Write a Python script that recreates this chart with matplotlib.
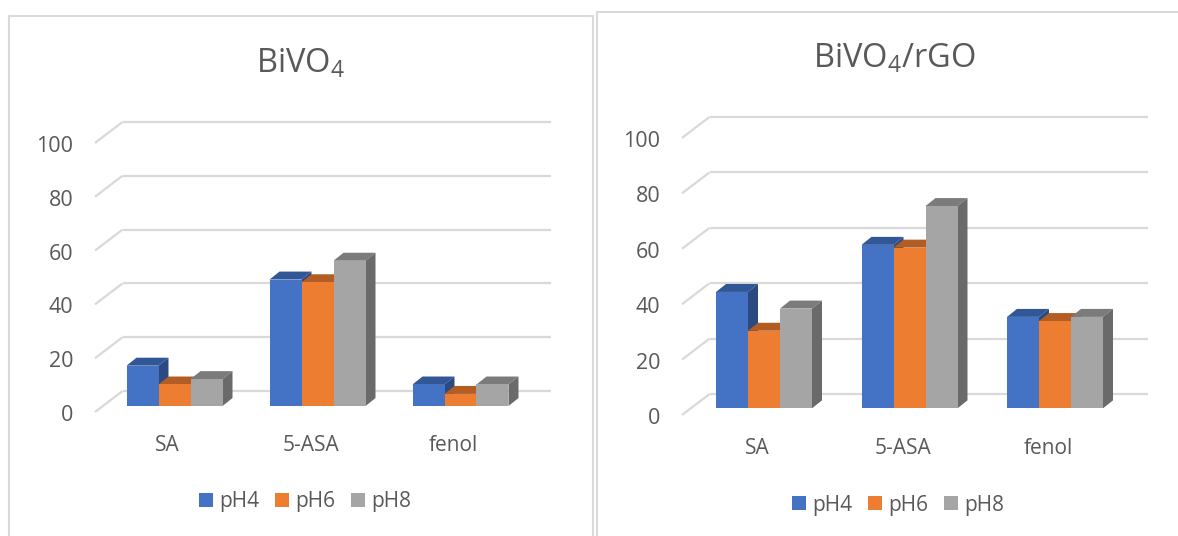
import matplotlib
matplotlib.use("Agg")
import matplotlib.pyplot as plt
from matplotlib.lines import Line2D

plt.rcParams["font.family"] = ["Open Sans", "DejaVu Sans"]
plt.rcParams["mathtext.default"] = "regular"

W, H = 1178, 536

categories = ["SA", "5-ASA", "fenol"]
series = ["pH4", "pH6", "pH8"]
ticks = [0, 20, 40, 60, 80, 100]

bivo4_ph4 = [15, 47, 8]
bivo4_ph6 = [8, 46, 4.5]
bivo4_ph8 = [10, 54, 8]

rgo_ph4 = [42, 59, 33]
rgo_ph6 = [28, 58, 31.5]
rgo_ph8 = [36, 73, 33]

front = ["#4472C4", "#ED7D31", "#A5A5A5"]
top = ["#325796", "#B25D24", "#7B7B7B"]
side = ["#2C4A82", "#A0521D", "#6A6A6A"]
grid = "#D9D9D9"
text_col = "#595959"


def panel(fig, title, values, box, title_xy, legend_xy):
    # box holds the pixel geometry of one fake 3D chart
    x0, x1, y_top, y_bottom, y_base, y_back, y_tick0, center, pitch, scale = box
    ax = fig.add_axes([x0 / W, 1 - y_bottom / H, (x1 - x0) / W, (y_bottom - y_top) / H])
    ax.set_xlim((x0 - center) / pitch, (x1 - center) / pitch)
    ax.set_ylim((y_base - y_bottom) / scale, (y_base - y_top) / scale)
    ax.patch.set_alpha(0)
    for s in ax.spines.values():
        s.set_visible(False)

    # wall lines, then the short diagonals going to the tick labels
    back = (y_base - y_back) / scale
    wall_dx = 27.5 / pitch
    for t in ticks:
        ax.plot([ax.get_xlim()[0] + wall_dx, ax.get_xlim()[1]], [t + back, t + back],
                color=grid, lw=1.6, zorder=1, solid_capstyle="butt", clip_on=False)
        ax.plot([ax.get_xlim()[0], ax.get_xlim()[0] + wall_dx],
                [t + (y_base - y_tick0) / scale, t + back],
                color=grid, lw=1.6, zorder=1, solid_capstyle="butt", clip_on=False)

    # bars with a top and a side face
    w = 32 / pitch
    dx = 10 / pitch
    dy = 8 / scale
    for j, vals in enumerate(values):
        for i, v in enumerate(vals):
            left = i + (j - 1.5) * w
            z = 3 + j
            ax.fill([left, left + dx, left + w + dx, left + w], [v, v + dy, v + dy, v],
                    color=top[j], lw=0, zorder=z)
            ax.fill([left + w, left + w + dx, left + w + dx, left + w], [0, dy, v + dy, v],
                    color=side[j], lw=0, zorder=z)
        ax.bar([i + (j - 1) * w for i in range(3)], vals, width=w, color=front[j],
               label=series[j], zorder=3 + j + 0.5)

    ax.set_xticks([i - 7 / pitch for i in range(3)], categories)
    ax.set_yticks([t + (y_base - y_tick0 - 1) / scale for t in ticks], [str(t) for t in ticks])
    ax.tick_params(axis="y", length=0, pad=15.5, labelsize=15.5, labelcolor=text_col)
    ax.tick_params(axis="x", length=0, pad=16, labelsize=15, labelcolor=text_col)

    fig.text(title_xy[0] / W, 1 - title_xy[1] / H, title, fontsize=23.5, color=text_col,
             ha="center", va="center")
    ax.legend(loc="center", bbox_to_anchor=(legend_xy[0] / W, 1 - legend_xy[1] / H),
              bbox_transform=fig.transFigure, ncol=3, frameon=False, fontsize=15,
              labelcolor=text_col, handlelength=0.67, handleheight=0.67, handletextpad=0.3,
              columnspacing=0.75, borderpad=0, borderaxespad=0)


fig = plt.figure(figsize=(W / 100, H / 100), dpi=100)

for xs, ys in [([9, 9, 593, 593], [H, 16, 16, H]), ([597, 597, W], [H, 12, 12])]:
    fig.add_artist(Line2D([x / W for x in xs], [1 - y / H for y in ys], color=grid, lw=1.5))

panel(fig, "BiVO$_4$", [bivo4_ph4, bivo4_ph6, bivo4_ph8],
      (95, 551, 122, 413, 407, 392, 413, 174.5, 143, 2.7), (301, 64), (305, 502))
panel(fig, "BiVO$_4$/rGO", [rgo_ph4, rgo_ph6, rgo_ph8],
      (682, 1148, 117, 416, 409.3, 395, 416, 764, 145.5, 2.78), (894, 59), (898, 505))

fig.savefig("out.png", dpi=100)
